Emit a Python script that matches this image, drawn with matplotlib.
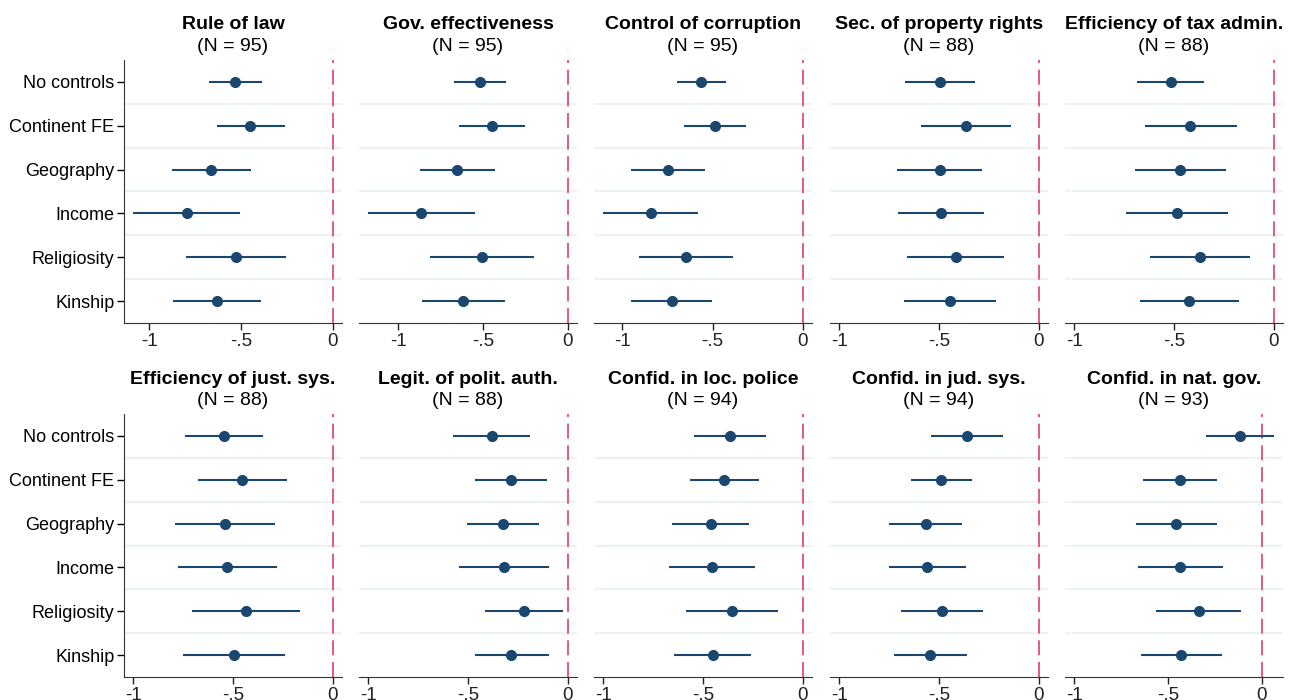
import numpy as np
import matplotlib.pyplot as plt

plt.rcParams['font.family'] = ['Liberation Sans', 'DejaVu Sans']

controls = ["No controls", "Continent FE", "Geography", "Income", "Religiosity", "Kinship"]

titles = ["Rule of law", "Gov. effectiveness", "Control of corruption",
          "Sec. of property rights", "Efficiency of tax admin.",
          "Efficiency of just. sys.", "Legit. of polit. auth.",
          "Confid. in loc. police", "Confid. in jud. sys.", "Confid. in nat. gov."]
n_obs = [95, 95, 95, 88, 88, 88, 88, 94, 94, 93]

# point estimates, one row per outcome, one column per control set
coef = [
    [-0.534, -0.452, -0.663, -0.798, -0.528, -0.634],
    [-0.518, -0.447, -0.652, -0.864, -0.508, -0.616],
    [-0.565, -0.489, -0.748, -0.844, -0.648, -0.728],
    [-0.496, -0.367, -0.497, -0.491, -0.417, -0.444],
    [-0.517, -0.418, -0.470, -0.487, -0.370, -0.423],
    [-0.545, -0.453, -0.538, -0.528, -0.436, -0.495],
    [-0.381, -0.283, -0.326, -0.319, -0.221, -0.283],
    [-0.363, -0.395, -0.462, -0.455, -0.353, -0.452],
    [-0.358, -0.491, -0.566, -0.561, -0.484, -0.544],
    [-0.118, -0.437, -0.455, -0.435, -0.337, -0.430],
]
ci_low = [
    [-0.676, -0.634, -0.876, -1.089, -0.803, -0.873],
    [-0.671, -0.640, -0.870, -1.177, -0.815, -0.862],
    [-0.698, -0.659, -0.954, -1.107, -0.909, -0.950],
    [-0.672, -0.590, -0.712, -0.707, -0.658, -0.677],
    [-0.684, -0.645, -0.697, -0.741, -0.622, -0.671],
    [-0.741, -0.676, -0.789, -0.778, -0.704, -0.749],
    [-0.574, -0.463, -0.507, -0.543, -0.416, -0.465],
    [-0.543, -0.567, -0.656, -0.671, -0.584, -0.647],
    [-0.538, -0.642, -0.749, -0.752, -0.688, -0.727],
    [-0.298, -0.635, -0.668, -0.658, -0.563, -0.643],
]
ci_high = [
    [-0.384, -0.262, -0.448, -0.507, -0.253, -0.392],
    [-0.364, -0.252, -0.427, -0.549, -0.199, -0.370],
    [-0.428, -0.313, -0.543, -0.580, -0.387, -0.506],
    [-0.320, -0.141, -0.283, -0.275, -0.174, -0.214],
    [-0.348, -0.186, -0.239, -0.229, -0.117, -0.174],
    [-0.351, -0.231, -0.289, -0.279, -0.166, -0.241],
    [-0.187, -0.102, -0.142, -0.095, -0.022, -0.095],
    [-0.182, -0.221, -0.268, -0.239, -0.122, -0.258],
    [-0.178, -0.337, -0.383, -0.367, -0.278, -0.362],
    [0.064, -0.237, -0.237, -0.209, -0.109, -0.214],
]

navy = '#1a476f'
W, H = 1298, 700
fig = plt.figure(figsize=(W / 100, H / 100), dpi=100)

lefts = [124, 359, 594, 830, 1065]
tops = [60, 414]
pw, ph = 218, 263
ypos = np.arange(1, len(controls) + 1)

for i in range(10):
    r, c = divmod(i, 5)
    ax = fig.add_axes([lefts[c] / W, 1 - (tops[r] + ph) / H, pw / W, ph / H])
    est = np.array(coef[i])
    lo = np.array(ci_low[i])
    hi = np.array(ci_high[i])

    # separators between the control sets
    for y in ypos[:-1] + 0.5:
        ax.axhline(y, color='#ecf3f4', lw=1.5, zorder=0)
    ax.axvline(0, color='#e0406a', lw=1.2, dashes=(9, 4), zorder=1)
    ax.hlines(ypos, lo, hi, color=navy, lw=1.5, zorder=2)
    ax.plot(est, ypos, 'o', color=navy, ms=7, zorder=3)

    xmin = min(lo.min(), -1)
    xmax = max(hi.max(), 0)
    pad = 0.046 * (xmax - xmin)
    ax.set_xlim(xmin - pad, xmax + pad)
    ax.set_ylim(6.5, 0.5)
    ax.set_xticks([-1, -0.5, 0])
    ax.set_xticklabels(['-1', '-.5', '0'])
    ax.tick_params(axis='x', labelsize=13.5, length=5, width=1, pad=2, colors='#222222')

    for s in ['top', 'right']:
        ax.spines[s].set_visible(False)
    ax.spines['bottom'].set_color('#333333')
    if c == 0:
        ax.set_yticks(ypos)
        ax.set_yticklabels(controls)
        ax.tick_params(axis='y', labelsize=13, length=5, width=1, pad=2)
        ax.spines['left'].set_color('#333333')
    else:
        ax.spines['left'].set_visible(False)
        ax.set_yticks([])

    ax.text(0.5, 1 + 35 / ph, titles[i], transform=ax.transAxes, ha='center',
            va='center', fontsize=14, fontweight='bold')
    ax.text(0.5, 1 + 13.5 / ph, '(N = %d)' % n_obs[i], transform=ax.transAxes,
            ha='center', va='center', fontsize=14)

fig.savefig('out.png', dpi=100)
